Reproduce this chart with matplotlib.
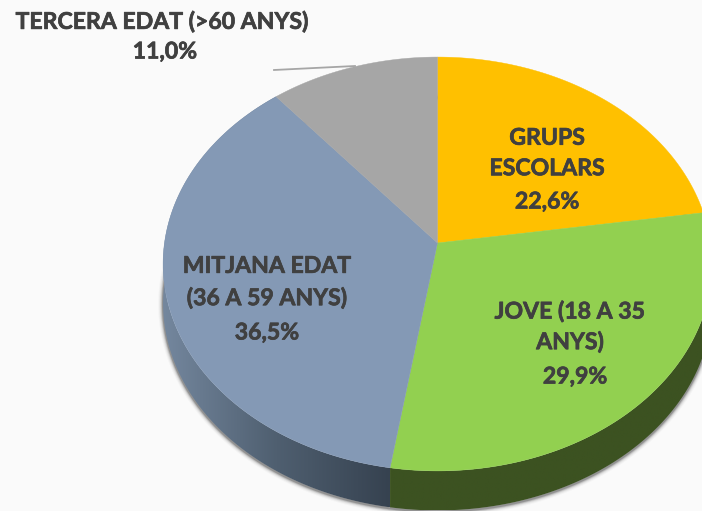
import numpy as np
import matplotlib
matplotlib.use("Agg")
import matplotlib.pyplot as plt
from matplotlib.patches import Polygon
from matplotlib.colors import LinearSegmentedColormap
import matplotlib.patheffects as pe

categories = ["GRUPS\nESCOLARS", "JOVE (18 A 35\nANYS)", "MITJANA EDAT\n(36 A 59 ANYS)", "TERCERA EDAT (>60 ANYS)"]
values = [22.6, 29.9, 36.5, 11.0]
colors = ["#FFC000", "#92D050", "#8499B5", "#A6A6A6"]

BG = "#FAFAFA"
TXT = "#404040"
CX, CY = 437.5, 243.0
A, B, K = 273.0, 204.8, 0.1014
DEPTH = 39.5

plt.rcParams["font.family"] = ["Lato", "DejaVu Sans"]
fig = plt.figure(figsize=(7.02, 5.11), dpi=100, facecolor=BG)
ax = fig.add_axes([0, 0, 1, 1])


def project(p):
    """Perspective view of the unit-circle pie."""
    x, y = p[:, 0], p[:, 1]
    d = 1 + K * y
    return np.column_stack([CX + A * x / d, CY - B * y / d])


wedges, _ = ax.pie(values, startangle=90, counterclock=False, radius=1)
shapes = []
for w in wedges:
    theta = np.radians(np.linspace(w.theta1, w.theta2, 200))
    arc = np.column_stack([np.cos(theta), np.sin(theta)])
    pts = np.vstack([[[0, 0]], arc])
    shapes.append((project(pts), project(arc)))
    w.remove()

ax.set_aspect("auto")
ax.axis("off")

# soft shadow around the lower silhouette
full = np.radians(np.linspace(0, 360, 400))
rim = project(np.column_stack([np.cos(full), np.sin(full)]))
low = rim + [0, DEPTH + 1]
for lw, al in zip([7, 5.5, 4, 2.8, 1.6], [0.03, 0.06, 0.10, 0.16, 0.28]):
    ax.add_patch(Polygon(low, closed=True, fc="none", ec="#303030", lw=lw, alpha=al, zorder=1))

# side walls
ramps = {
    1: LinearSegmentedColormap.from_list("g", ["#3C5221", "#3C5221"]),
    2: LinearSegmentedColormap.from_list("b", ["#74879E", "#4F5F70", "#364250"]),
}
for i, cmap in ramps.items():
    arc = shapes[i][1]
    wall = np.vstack([arc, (arc + [0, DEPTH])[::-1]])
    patch = Polygon(wall, closed=True, fc="none", ec="none", zorder=2)
    ax.add_patch(patch)
    x0, x1 = wall[:, 0].min(), wall[:, 0].max()
    y0, y1 = wall[:, 1].min(), wall[:, 1].max()
    im = ax.imshow(np.linspace(0, 1, 256)[None, :], cmap=cmap, extent=[x0, x1, y1, y0],
                   aspect="auto", zorder=2, interpolation="bilinear")
    im.set_clip_path(patch)
ax.set_aspect("auto")
ax.set_xlim(0, 702)
ax.set_ylim(511, 0)

# top faces
for (face, _), c in zip(shapes, colors):
    ax.add_patch(Polygon(face, closed=True, fc=c, ec=c, lw=0.3, zorder=3))

# leader line
ax.plot([274, 355], [70, 66], color="#A6A6A6", lw=1.3, zorder=2.5)

# labels
name_pos = [(547, 153.5), (570, 327), (267, 282.5), (162, 22)]
value_pos = [(547, 202), (575, 377), (267, 333), (165, 52)]
spacing = [1.56, 1.5, 1.6, 1.4]
for name, val, np_, vp, ls in zip(categories, values, name_pos, value_pos, spacing):
    t1 = ax.text(*np_, name, ha="center", va="center", ma="center", color=TXT,
                 fontsize=16.6, fontweight="bold", linespacing=ls, zorder=5)
    t2 = ax.text(*vp, f"{val:.1f}%".replace(".", ","), ha="center", va="center", color=TXT,
                 fontsize=16.6, fontweight="bold", zorder=5)
    for t in (t1, t2):
        t.set_path_effects([pe.withStroke(linewidth=0.5, foreground=TXT)])

fig.savefig("out.png", dpi=100, facecolor=BG)
